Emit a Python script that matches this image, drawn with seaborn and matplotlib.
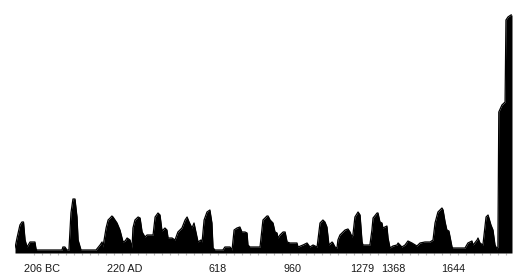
import numpy as np
import pandas as pd
import matplotlib
matplotlib.use("Agg")
import matplotlib.pyplot as plt
import seaborn as sns

# ---- data ----
years = [-221, -212, -199, -190, -183, -176, -167, -154, -141, -132, -127, -123,
         -11, -7, 2, 11, 20, 29, 38, 47, 56, 61, 74,
         141, 159, 168, 172, 186, 195, 204, 212, 217, 235, 248, 262, 271, 280, 293, 302,
         306, 315, 329, 338, 347, 360, 369, 382, 396, 405, 418, 427, 436, 449, 458, 463,
         481, 494, 507, 525, 539, 548, 557, 570, 579, 592, 597, 610, 615, 624, 637, 650,
         659, 664, 673,
         708, 717, 740, 749, 758, 771, 784, 793, 807, 816, 820, 829, 874, 887, 905, 910,
         919, 932, 941, 950, 954, 963, 977, 986, 995, 1008, 1039, 1044, 1066, 1084, 1097,
         1111, 1129, 1142, 1155, 1164, 1173, 1182, 1196, 1200, 1209, 1218, 1222, 1231,
         1240, 1254, 1267, 1276, 1285, 1289, 1298, 1312, 1321, 1330, 1334, 1365, 1374,
         1379, 1397, 1401, 1410, 1419, 1423, 1441, 1446, 1455, 1468, 1486, 1491, 1508,
         1522, 1535, 1553, 1575, 1589, 1611, 1634, 1647, 1656, 1669, 1687, 1692, 1701,
         1709, 1718, 1732, 1736, 1790, 1803, 1821, 1826, 1844, 1848, 1857, 1870, 1884,
         1893, 1906, 1915, 1924, 1933, 1937, 1941, 1955, 1969, 1973, 1982, 1995, 2000]
values = [5, 15, 28, 31, 31, 13, 6, 11, 11, 11, 4, 3,
          3, 6, 6, 3, 3, 40, 54, 54, 36, 13, 3,
          3, 8, 11, 6, 25, 33, 35, 37, 36, 30, 23, 11, 12, 15, 13, 5,
          25, 33, 36, 35, 21, 16, 18, 18, 18, 36, 40, 38, 22, 25, 23, 15,
          15, 13, 21, 25, 33, 36, 31, 25, 30, 16, 11, 13, 11, 33, 41, 43,
          30, 5, 3,
          3, 6, 6, 3, 23, 25, 26, 21, 21, 20, 8, 6, 6, 33, 37, 37,
          33, 30, 21, 20, 15, 18, 21, 21, 11, 10, 10, 6, 8, 10, 6,
          8, 6, 30, 33, 31, 26, 8, 11, 10, 6, 5, 13, 18,
          20, 23, 24, 21, 16, 18, 36, 41, 38, 11, 8, 8, 23,
          35, 40, 40, 31, 30, 25, 27, 15, 5, 7, 8, 10, 6,
          8, 12, 10, 7, 10, 11, 11, 13, 30, 41, 45, 43, 31,
          23, 22, 6, 5, 5, 10, 12, 8, 13, 15, 10, 8, 36,
          38, 28, 23, 8, 4, 6, 141, 148, 151, 233, 236, 238, 238]

tick_labels = ["206 BC", "220 AD", "618", "960", "1279", "1368", "1644"]
# where the labels sit along the time axis in the picture
label_at = [-100, 271, 686, 1017, 1330, 1468, 1736]

df = pd.DataFrame({"year": years, "value": values})

# ---- figure ----
sns.set_theme(style="white")
plt.rcParams["font.family"] = ["Liberation Sans", "DejaVu Sans"]

W, H = 526, 279
fig = plt.figure(figsize=(W / 100, H / 100), dpi=100)
fig.patch.set_facecolor("white")
ax = fig.add_axes([15 / W, (H - 253) / H, 497 / W, 253 / H])
ax.set_facecolor("white")

ax.fill_between(df["year"], 0, df["value"], color="black", lw=0)
sns.lineplot(data=df, x="year", y="value", color="black", lw=0.9, ax=ax,
             estimator=None, sort=False)

ax.set_xlim(years[0], years[-1])
ax.set_ylim(0, 253)
ax.set_yticks([])
ax.set_xlabel("")
ax.set_ylabel("")
for s in ax.spines.values():
    s.set_visible(False)

ax.set_xticks(label_at, tick_labels)
ax.set_xticks(np.arange(-136, 2001, 35.75), minor=True)
ax.tick_params(axis="x", which="major", length=0, pad=8, labelsize=7.8,
               labelcolor="#1a1a1a")
ax.tick_params(axis="x", which="minor", length=1.5, width=0.8, color="#bbbbbb",
               direction="out", bottom=True)

fig.savefig("out.png", dpi=100, facecolor="white")
